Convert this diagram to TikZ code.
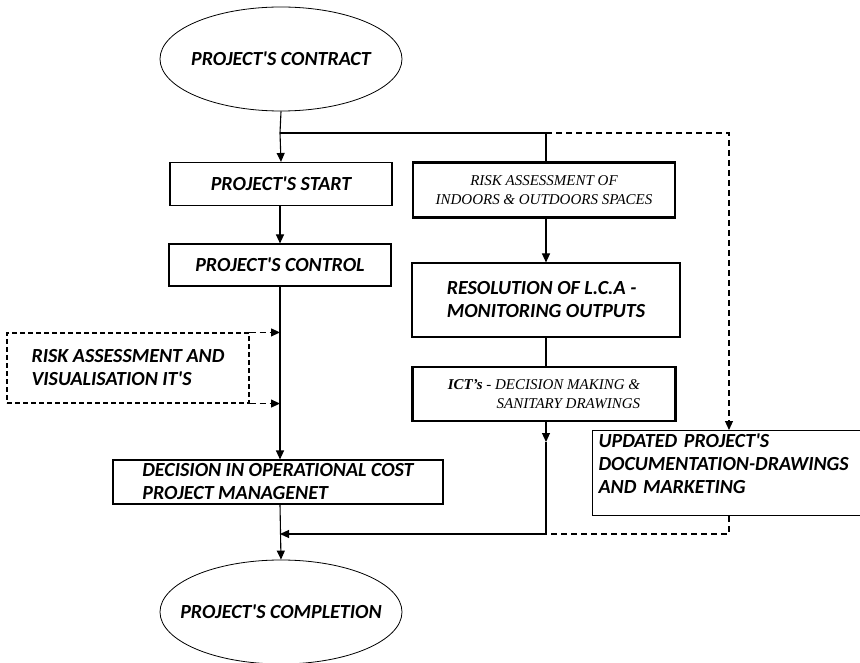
\documentclass[tikz,border=0pt]{standalone}
\usepackage{fontspec}
\setmainfont{Liberation Serif}
\newfontfamily\stagefont{Carlito}
\usetikzlibrary{shapes.geometric,arrows.meta,positioning}

\begin{document}
\begin{tikzpicture}[x=1pt,y=-1pt,line width=1.1pt,>={Triangle[length=9pt,width=8pt]}]
	\tikzstyle{stage}=[draw,rectangle,inner sep=2pt,font=\stagefont\bfseries\itshape\fontsize{20}{23}\selectfont]
	\tikzstyle{milestone}=[stage,ellipse,line width=0.8pt,minimum width=242pt,minimum height=104pt,inner xsep=-30pt,inner ysep=0pt]
	\tikzstyle{task}=[draw,rectangle,line width=2.4pt,inner sep=2pt,font=\itshape\fontsize{15}{19}\selectfont]
	\tikzstyle{option}=[stage,dash pattern=on 5pt off 3pt]
	\tikzstyle{link}=[->]
	\tikzstyle{feedback}=[->,dash pattern=on 6pt off 4pt]

	\useasboundingbox (0,0) rectangle (860,663);
	\clip (0,0) rectangle (860,663);

	% Draw the start and end of the project
	\node[milestone] (contract) at (281,59) {PROJECT'S CONTRACT};
	\node[milestone] (completion) at (281,612) {PROJECT'S COMPLETION};

	% Draw the main chain on the left
	\node[stage,minimum width=222pt,minimum height=43pt] (start) at (281,184) {PROJECT'S START};
	\node[stage,minimum width=222pt,minimum height=42pt] (control) at (280,265) {PROJECT'S CONTROL};
	\node[option,align=left,minimum width=242pt,minimum height=70pt] (visual) at (128,368)
		{RISK ASSESSMENT AND\\VISUALISATION IT'S};
	\node[stage,align=left,minimum width=330pt,minimum height=44pt] (decision) at (278,482)
		{DECISION IN OPERATIONAL COST\\PROJECT MANAGENET};

	% Draw the chain on the right
	\node[task,align=center,minimum width=262pt,minimum height=55pt] (indoor) at (544,190)
		{RISK ASSESSMENT OF\\INDOORS \& OUTDOORS SPACES};
	\node[stage,align=left,minimum width=268pt,minimum height=74pt] (lca) at (546,300)
		{RESOLUTION OF L.C.A -\\MONITORING OUTPUTS};
	\node[task,align=right,minimum width=263pt,minimum height=54pt] (ict) at (544,394)
		{\textbf{ICT's} - DECISION MAKING \&\\SANITARY DRAWINGS};
	\node[stage,anchor=north west,align=left,inner xsep=6pt,inner ysep=1pt,text width=270pt,minimum height=85pt] (updated) at (592,430)
		{UPDATED PROJECT'S\\DOCUMENTATION-DRAWINGS\\AND MARKETING\\[-5pt]\mbox{}};

	% Branch points of the connectors
	\coordinate (split) at (280,133);
	\coordinate (fork) at (546,133);
	\coordinate (corner) at (729,133);
	\coordinate (drop) at (546,442);
	\coordinate (join) at (546,534);
	\coordinate (back) at (729,534);
	\coordinate (merge) at (280,534);

	% Connect the left chain
	\draw (contract.south) -- (split);
	\draw[link] (split) -- (start.north);
	\draw[link] (start.south) -- (control.south |- start.south) -- (control.north);
	\draw[link] (control.south) -- (control.south |- decision.north);
	\draw[feedback] (visual.north east) -- (control.south |- visual.north);
	\draw[feedback] (visual.south east) -- (control.south |- visual.south);
	\draw[link] (merge |- decision.south) -- (completion.north);

	% Connect the right chain
	\draw (split) -- (fork) -- (fork |- indoor.north);
	\draw[link] (fork |- indoor.south) -- (fork |- lca.north);
	\draw (fork |- lca.south) -- (fork |- ict.north);
	\draw[link] (fork |- ict.south) -- (drop);
	\draw[link] (drop) -- (join) -- (merge);

	% Documentation loop
	\draw[feedback] (fork) -- (corner) -- (corner |- updated.north);
	\draw[dash pattern=on 6pt off 4pt] (corner |- updated.south) -- (back) -- (join);
\end{tikzpicture}
\end{document}
